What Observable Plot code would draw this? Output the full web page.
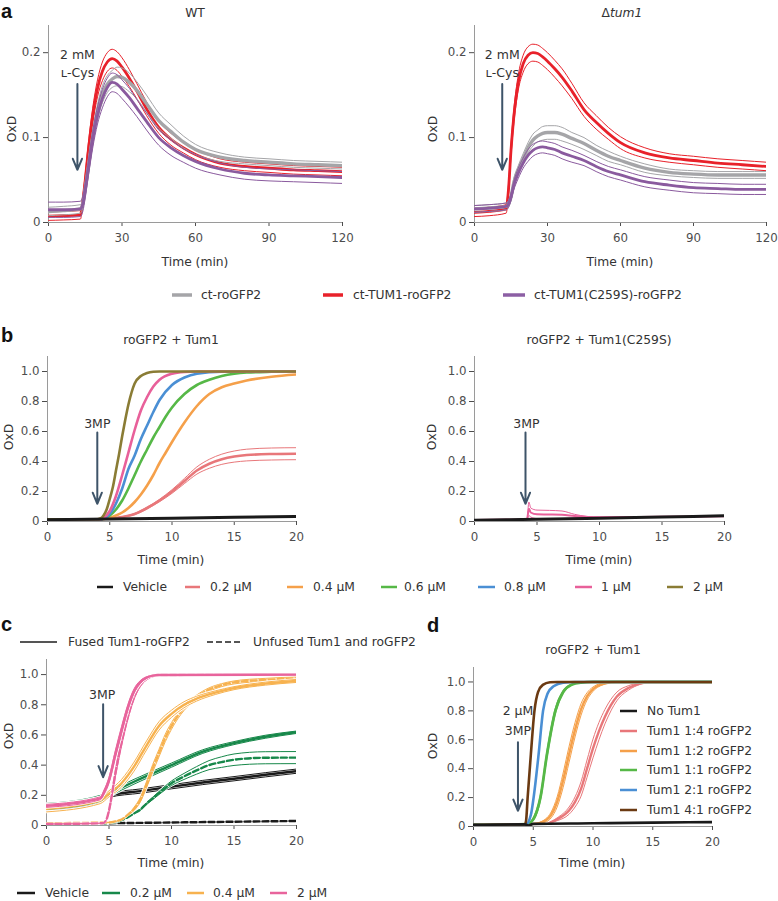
<!DOCTYPE html>
<html><head><meta charset="utf-8">
<script src="https://cdn.jsdelivr.net/npm/d3@7"></script>
<script src="https://cdn.jsdelivr.net/npm/@observablehq/plot@0.6"></script>
<style>
body{margin:0;background:#fff;}
#fig{position:relative;width:778px;height:901px;font-family:"DejaVu Sans",sans-serif;color:#333;overflow:hidden;}
.t{position:absolute;white-space:nowrap;line-height:1;font-size:12.3px;color:#333;}
.c{transform:translate(-50%,-50%);}
.r{transform:translate(-50%,-50%) rotate(-90deg);}
.l{transform:translateY(-50%);}
.letter{position:absolute;font:bold 20px "Liberation Sans",Arial,sans-serif;line-height:23px;color:#111;}
</style></head>
<body><div id="fig"></div>
<script>
// ---------------- DATA ----------------
// Panel a: [time (min), mean OxD, sd]
const aWT_ct = [[0,0.013,0.005],[6,0.014,0.005],[13,0.016,0.005],[14,0.022,0.005],[15,0.04,0.006],[16,0.06,0.007],[18,0.1,0.008],[20,0.13,0.009],[22,0.151,0.01],[24,0.163,0.01],[26,0.169,0.01],[28,0.172,0.011],[30,0.171,0.011],[33,0.165,0.011],[36,0.156,0.01],[40,0.14,0.01],[45,0.12,0.009],[50,0.107,0.008],[55,0.095,0.007],[60,0.086,0.006],[70,0.077,0.005],[80,0.073,0.004],[90,0.071,0.004],[100,0.069,0.004],[110,0.068,0.004],[120,0.067,0.004]];
const aWT_tum = [[0,0.0075,0.005],[6,0.008,0.005],[13,0.009,0.005],[14,0.025,0.006],[15,0.05,0.007],[16,0.078,0.008],[18,0.125,0.009],[20,0.158,0.01],[22,0.178,0.011],[24,0.189,0.011],[26,0.193,0.011],[28,0.19,0.011],[30,0.183,0.011],[33,0.17,0.01],[36,0.155,0.009],[40,0.134,0.008],[45,0.112,0.007],[50,0.098,0.007],[55,0.088,0.006],[60,0.08,0.006],[70,0.07,0.005],[80,0.066,0.005],[90,0.064,0.005],[100,0.062,0.005],[110,0.061,0.005],[120,0.06,0.005]];
const aWT_c259s = [[0,0.015,0.009],[6,0.015,0.009],[13,0.016,0.009],[14,0.022,0.009],[15,0.038,0.009],[16,0.058,0.009],[18,0.097,0.01],[20,0.126,0.01],[22,0.146,0.011],[24,0.159,0.011],[26,0.165,0.011],[28,0.163,0.011],[30,0.157,0.011],[33,0.147,0.011],[36,0.135,0.01],[40,0.119,0.01],[45,0.1,0.009],[50,0.088,0.009],[55,0.079,0.008],[60,0.072,0.008],[70,0.063,0.007],[80,0.058,0.007],[90,0.056,0.007],[100,0.055,0.007],[110,0.054,0.007],[120,0.053,0.007]];
const aKO_ct = [[0,0.016,0.004],[6,0.017,0.004],[13,0.019,0.004],[14,0.022,0.004],[15,0.03,0.004],[16,0.045,0.005],[18,0.062,0.005],[20,0.075,0.006],[22,0.088,0.006],[24,0.097,0.007],[26,0.102,0.007],[28,0.105,0.008],[30,0.106,0.008],[33,0.106,0.008],[36,0.104,0.008],[40,0.099,0.007],[45,0.093,0.007],[50,0.085,0.006],[55,0.078,0.006],[60,0.073,0.005],[70,0.064,0.005],[80,0.059,0.004],[90,0.057,0.004],[100,0.056,0.004],[110,0.056,0.004],[120,0.056,0.004]];
const aKO_tum = [[0,0.012,0.005],[6,0.013,0.005],[13,0.016,0.005],[14,0.04,0.006],[15,0.085,0.007],[16,0.12,0.008],[18,0.165,0.009],[20,0.187,0.01],[22,0.197,0.01],[24,0.2,0.01],[26,0.199,0.01],[28,0.195,0.01],[30,0.19,0.01],[33,0.181,0.01],[36,0.171,0.01],[40,0.155,0.009],[45,0.133,0.008],[50,0.118,0.008],[55,0.105,0.007],[60,0.094,0.007],[70,0.082,0.006],[80,0.076,0.005],[90,0.073,0.005],[100,0.07,0.005],[110,0.068,0.005],[120,0.066,0.005]];
const aKO_c259s = [[0,0.016,0.004],[6,0.017,0.004],[13,0.019,0.004],[14,0.022,0.004],[15,0.03,0.004],[16,0.042,0.005],[18,0.058,0.006],[20,0.07,0.006],[22,0.079,0.007],[24,0.085,0.007],[26,0.088,0.007],[28,0.089,0.007],[30,0.088,0.007],[33,0.086,0.007],[36,0.082,0.007],[40,0.078,0.007],[45,0.073,0.006],[50,0.066,0.006],[55,0.06,0.006],[60,0.056,0.006],[70,0.048,0.006],[80,0.044,0.006],[90,0.041,0.006],[100,0.04,0.006],[110,0.039,0.006],[120,0.039,0.006]];

// Panel b (roGFP2 + Tum1): [time, mean, sd]
const bT_vehicle = [[0,0.012],[5,0.017],[10,0.022],[15,0.028],[20,0.033]];
const bT_02 = [[0,0.015],[4,0.015],[5,0.02],[6,0.03,0.002],[7,0.05,0.004],[8,0.09,0.006],[9,0.14,0.008],[10,0.2,0.012],[11,0.27,0.017],[12,0.34,0.024],[13,0.385,0.03],[14,0.415,0.034],[15,0.433,0.037],[16,0.443,0.039],[18,0.45,0.04],[20,0.452,0.04]];
const bT_04 = [[0,0.015],[4,0.015],[5,0.025],[5.5,0.04],[6,0.06],[6.5,0.09],[7,0.13],[7.5,0.18],[8,0.24],[8.5,0.31],[9,0.39],[9.5,0.46],[10,0.53],[11,0.66],[12,0.77],[13,0.85],[14,0.895],[15,0.92],[16,0.94],[18,0.965],[20,0.98]];
const bT_06 = [[0,0.015],[4.25,0.015],[4.5,0.02],[5,0.04],[5.5,0.08],[6,0.14],[6.5,0.22],[7,0.31],[7.5,0.4],[8,0.48],[8.5,0.56],[9,0.63],[9.5,0.7],[10,0.76],[11,0.85],[12,0.91],[13,0.945],[14,0.97],[15,0.985],[16,0.993],[18,0.998],[20,1.0]];
const bT_08 = [[0,0.015],[4.25,0.015],[4.5,0.02],[5,0.05],[5.5,0.12],[6,0.22],[6.5,0.35],[7,0.44],[7.5,0.55],[8,0.64],[8.5,0.73],[9,0.81],[10,0.91],[11,0.96],[12,0.985],[14,0.998],[20,1.0]];
const bT_1 = [[0,0.015],[4.25,0.015],[4.5,0.025],[5,0.07],[5.5,0.17],[6,0.31],[6.5,0.46],[7,0.61],[7.5,0.74],[8,0.83],[8.5,0.9],[9,0.945],[10,0.985],[11,0.997],[12,1.0],[20,1.0]];
const bT_2 = [[0,0.015],[4,0.015],[4.25,0.02],[4.5,0.04],[4.75,0.08],[5,0.15],[5.25,0.23],[5.5,0.34],[5.75,0.45],[6,0.57],[6.25,0.68],[6.5,0.78],[6.75,0.86],[7,0.92],[7.5,0.97],[8,0.99],[8.5,0.998],[9,1.0],[20,1.0]];
// Panel b (roGFP2 + Tum1(C259S))
const bS_vehicle = [[0,0.008],[5,0.015],[10,0.022],[15,0.03],[20,0.038]];
const bS_1 = [[0,0.01],[4.2,0.015],[4.35,0.085,0.045],[4.5,0.06,0.03],[5,0.048,0.028],[6,0.047,0.027],[7,0.045,0.025],[8,0.036,0.012],[9,0.03,0.004],[10,0.028,0.002],[15,0.031],[20,0.035]];

// Panel c: fused (solid) and unfused (dashed)
const cF_vehicle = [[0,0.117,0.014],[4.3,0.166,0.014],[5,0.2,0.014],[7.5,0.228,0.014],[10,0.257,0.014],[12.5,0.285,0.014],[15,0.31,0.014],[17.5,0.336,0.014],[20,0.36,0.014]];
const cF_02 = [[0,0.126,0.02],[4.3,0.18,0.02],[5,0.21,0.018],[7,0.29,0.016],[10,0.4,0.014],[12.5,0.49,0.012],[15,0.546,0.01],[17.5,0.588,0.01],[20,0.618,0.008]];
const cF_04 = [[0,0.11,0.02],[4.3,0.165,0.02],[5,0.21,0.02],[6,0.28,0.025],[7,0.39,0.03],[8,0.53,0.03],[9,0.66,0.028],[10,0.74,0.024],[11,0.8,0.02],[12,0.84,0.016],[13.5,0.88,0.012],[15,0.91,0.01],[17.5,0.94,0.01],[20,0.958,0.01]];
const cF_2 = [[0,0.13,0.01],[4.3,0.18,0.01],[4.6,0.22,0.015],[5,0.3,0.02],[5.5,0.47,0.025],[6,0.63,0.025],[6.5,0.78,0.02],[7,0.89,0.015],[7.5,0.95,0.01],[8,0.98,0.005],[8.5,0.993,0.003],[9,0.997,0.002],[20,1.0,0.002]];
const cU_vehicle = [[0,0.01],[5,0.015],[10,0.02],[15,0.025],[20,0.03]];
const cU_02 = [[0,0.01],[4.5,0.015],[5,0.018],[5.5,0.022],[6,0.035],[6.5,0.055],[7,0.08],[7.5,0.105,0.004],[8,0.145,0.006],[8.5,0.18,0.008],[9,0.215,0.01],[10,0.28,0.015],[11,0.325,0.02],[12,0.365,0.025],[13,0.4,0.03],[14,0.42,0.035],[15,0.436,0.038],[17.5,0.449,0.04],[20,0.45,0.04]];
const cU_04 = [[0,0.015],[5,0.02],[5.5,0.027],[6,0.04],[6.5,0.07],[7,0.11,0.01],[7.5,0.17,0.015],[8,0.27,0.02],[8.5,0.38,0.025],[9,0.48,0.025],[9.5,0.58,0.025],[10,0.66,0.022],[11,0.78,0.018],[12,0.85,0.014],[13,0.9,0.012],[14,0.93,0.01],[15,0.948,0.01],[17.5,0.965,0.01],[20,0.975,0.01]];
const cU_2 = [[0,0.01],[4.5,0.015],[4.8,0.04],[5,0.1,0.01],[5.5,0.34,0.02],[6,0.55,0.025],[6.5,0.72,0.02],[7,0.85,0.015],[7.5,0.93,0.01],[8,0.97,0.005],[8.5,0.99,0.003],[9,0.997,0.002],[20,1.0,0.002]];

// Panel d: Tum1:roGFP2 ratios
const d_none = [[0,0.01],[4.3,0.015],[4.6,0.006],[5,0.018],[10,0.022],[15,0.027],[20,0.03]];
const d_14 = [[0,0.012],[6,0.02],[7,0.05,0.01],[8,0.11,0.025],[8.5,0.17,0.035],[9,0.26,0.05],[9.5,0.4,0.06],[10,0.54,0.065],[10.5,0.66,0.06],[11,0.76,0.05],[11.5,0.84,0.04],[12,0.9,0.03],[13,0.96,0.015],[14,0.99,0.005],[15,1.0],[20,0.995]];
const d_12 = [[0,0.012],[5,0.018],[6,0.04,0.01],[6.5,0.08,0.02],[7,0.17,0.035],[7.5,0.32,0.05],[8,0.5,0.055],[8.5,0.67,0.05],[9,0.81,0.04],[9.5,0.9,0.025],[10,0.95,0.015],[11,0.99,0.005],[12,1.0],[20,0.995]];
const d_11 = [[0,0.012],[4.5,0.017],[5,0.05,0.01],[5.6,0.2,0.02],[6.15,0.5,0.025],[6.85,0.8,0.02],[7.5,0.93,0.01],[8.2,0.98,0.004],[9,0.995],[10,1.0],[20,1.0]];
const d_21 = [[0,0.012],[4.4,0.015],[4.8,0.08],[5.03,0.2],[5.45,0.5],[5.82,0.8],[6.2,0.92],[6.7,0.97],[7.5,0.995],[8.5,1.0],[20,1.0]];
const d_41 = [[0,0.012],[4.3,0.015],[4.4,0.04],[4.53,0.2],[4.8,0.5],[5.1,0.8],[5.4,0.93],[5.8,0.98],[6.4,0.998],[7,1.0],[20,1.0]];

// Ticks
const xTicksA = [0, 30, 60, 90, 120];
const yTicksA = [0, 0.1, 0.2];
const xTicksB = [0, 5, 10, 15, 20];
const yTicksB = [0, 0.2, 0.4, 0.6, 0.8, 1.0];

// Annotations: arrows [x, yTop, yTip] and labels [x, y, text]
const annA_WT = {arrow: [[11.8, 0.163, 0.062]], text: [[11.8, 0.197, "2 mM"], [11.8, 0.176, "ʟ-Cys"]]};
const annA_KO = {arrow: [[11.4, 0.163, 0.062]], text: [[11.4, 0.197, "2 mM"], [11.4, 0.176, "ʟ-Cys"]]};
const annB_T = {arrow: [[4.0, 0.593, 0.118]], text: [[4.0, 0.65, "3MP"]]};
const annB_S = {arrow: [[4.08, 0.593, 0.118]], text: [[4.15, 0.65, "3MP"]]};
const annC = {arrow: [[4.53, 0.803, 0.32]], text: [[4.45, 0.863, "3MP"]]};
const annD = {arrow: [[3.72, 0.583, 0.109]], text: [[3.72, 0.797, "2 µM"], [3.72, 0.66, "3MP"]]};

// Legends
const legA = [["ct-roGFP2", "#a5a5a8"], ["ct-TUM1-roGFP2", "#e8212a"], ["ct-TUM1(C259S)-roGFP2", "#8c5fa4"]];
const legB = [["Vehicle", "#1a1a1a"], ["0.2 µM", "#e8777a"], ["0.4 µM", "#f5a04a"], ["0.6 µM", "#56b847"], ["0.8 µM", "#4a8fd4"], ["1 µM", "#e8609a"], ["2 µM", "#8a7c35"]];
const legC = [["Vehicle", "#1a1a1a"], ["0.2 µM", "#17884a"], ["0.4 µM", "#f7b24f"], ["2 µM", "#e8649c"]];
const legD = [["No Tum1", "#1a1a1a"], ["Tum1 1:4 roGFP2", "#e8777a"], ["Tum1 1:2 roGFP2", "#f5a04a"], ["Tum1 1:1 roGFP2", "#56b847"], ["Tum1 2:1 roGFP2", "#4a8fd4"], ["Tum1 4:1 roGFP2", "#6b3a12"]];

// ---------------- DRAWING ----------------
const fig = document.getElementById("fig");
const FONT = "DejaVu Sans, sans-serif";
const AXIS = "#9a9a9a";
const ARROW = "#3e5469";
const fmtY = d => d === 0 ? "0" : d.toFixed(1);

function series(data, color, {w = 2.8, thin = 1, dash = null, halo = false} = {}) {
  const pts = data.map(([t, m, s = 0]) => ({t, m, lo: m - s, hi: m + s}));
  const out = [];
  const base = {x: "t", curve: "monotone-x", clip: true};
  if (data.some(d => (d[2] || 0) > 0)) {
    for (const k of ["hi", "lo"]) {
      if (halo) out.push(Plot.line(pts, {...base, y: k, stroke: "#fff", strokeWidth: thin + 1.6}));
      out.push(Plot.line(pts, {...base, y: k, stroke: color, strokeWidth: thin}));
    }
  }
  out.push(Plot.line(pts, {...base, y: "m", stroke: color, strokeWidth: w, strokeDasharray: dash}));
  return out;
}
function annot(a) {
  return [
    Plot.arrow(a.arrow, {x1: d => d[0], y1: d => d[1], x2: d => d[0], y2: d => d[2], stroke: ARROW, strokeWidth: 2, headLength: 9, headAngle: 45}),
    Plot.text(a.text, {x: d => d[0], y: d => d[1], text: d => d[2], fontSize: 12.5, fill: "#333", fontFamily: FONT})
  ];
}
function panel(c) {
  const svg = Plot.plot({
    width: c.w, height: c.h,
    marginLeft: c.ml, marginRight: c.mr, marginTop: c.mt, marginBottom: c.mb,
    style: {fontFamily: FONT, fontSize: "11.8px", color: "#4d4d4d", background: "transparent", overflow: "visible"},
    x: {domain: c.x, ticks: c.xt, tickSize: 4, tickPadding: 7, label: null, tickFormat: d => String(d)},
    y: {domain: c.y, ticks: c.yt, tickSize: 5, tickPadding: 3, label: null, tickFormat: fmtY},
    marks: [Plot.ruleX([c.x[0]], {stroke: AXIS}), Plot.ruleY([0], {stroke: AXIS}), ...c.marks]
  });
  svg.style.position = "absolute";
  svg.style.left = c.left + "px";
  svg.style.top = c.top + "px";
  fig.appendChild(svg);
}
function txt(html, x, y, cls) {
  const d = document.createElement("div");
  d.className = "t " + cls;
  d.style.left = x + "px"; d.style.top = y + "px";
  d.innerHTML = html;
  fig.appendChild(d);
}
function letter(s, x, y) {
  const d = document.createElement("div");
  d.className = "letter"; d.textContent = s;
  d.style.left = x + "px"; d.style.top = y + "px";
  fig.appendChild(d);
}
// overlay svg for legend swatches
const NS = "http://www.w3.org/2000/svg";
const over = document.createElementNS(NS, "svg");
over.setAttribute("width", 778); over.setAttribute("height", 901);
over.style.cssText = "position:absolute;left:0;top:0;pointer-events:none";
fig.appendChild(over);
function swatch(x1, x2, y, color, w = 3, dash = null) {
  const l = document.createElementNS(NS, "line");
  l.setAttribute("x1", x1); l.setAttribute("x2", x2); l.setAttribute("y1", y); l.setAttribute("y2", y);
  l.setAttribute("stroke", color); l.setAttribute("stroke-width", w);
  if (dash) l.setAttribute("stroke-dasharray", dash);
  over.appendChild(l);
}

// ---- Panel a ----
const cA = ["#e8212a", "#a5a5a8", "#8a5a9e"];
panel({left: 0, top: 0, w: 390, h: 250, ml: 48, mr: 48, mt: 25, mb: 28, x: [0, 120], xt: xTicksA, y: [0, 0.232], yt: yTicksA,
  marks: [...series(aWT_tum, cA[0]), ...series(aWT_ct, cA[1], {w: 3.4}), ...series(aWT_c259s, cA[2]), ...annot(annA_WT)]});
panel({left: 390, top: 0, w: 388, h: 250, ml: 84, mr: 12, mt: 25, mb: 28, x: [0, 120], xt: xTicksA, y: [0, 0.232], yt: yTicksA,
  marks: [...series(aKO_tum, cA[0]), ...series(aKO_ct, cA[1], {w: 3.4}), ...series(aKO_c259s, cA[2]), ...annot(annA_KO)]});
letter("a", 1, 0);
txt("WT", 195, 12.5, "c");
txt("Δ<i>tum1</i>", 622, 12.5, "c");
txt("OxD", 12, 129, "r");
txt("OxD", 433, 129, "r");
txt("Time (min)", 195, 262, "c");
txt("Time (min)", 620, 262, "c");
const legAPos = [[172, 192, 201], [323, 343, 353], [503, 525, 534]];
legA.forEach(([s, col], i) => { const p = legAPos[i]; swatch(p[0], p[1], 295, col, 3.5); txt(s, p[2], 295, "l"); });

// ---- Panel b ----
const cB = Object.fromEntries(legB.map(([k, v]) => [k, v]));
panel({left: 0, top: 345, w: 390, h: 200, ml: 47, mr: 94, mt: 11, mb: 24, x: [0, 20], xt: xTicksB, y: [0, 1.1], yt: yTicksB,
  marks: [...series(bT_02, cB["0.2 µM"], {w: 2.6}), ...series(bT_04, cB["0.4 µM"], {w: 2.6}), ...series(bT_06, cB["0.6 µM"], {w: 2.6}),
    ...series(bT_08, cB["0.8 µM"], {w: 2.6}), ...series(bT_1, cB["1 µM"], {w: 2.6}), ...series(bT_2, cB["2 µM"], {w: 2.6}),
    ...series(bT_vehicle, cB["Vehicle"], {w: 3}), ...annot(annB_T)]});
panel({left: 390, top: 345, w: 388, h: 200, ml: 84, mr: 54, mt: 11, mb: 24, x: [0, 20], xt: xTicksB, y: [0, 1.1], yt: yTicksB,
  marks: [...series(bS_1, cB["1 µM"], {w: 2}), ...series(bS_vehicle, cB["Vehicle"], {w: 3}), ...annot(annB_S)]});
letter("b", 1, 323.5);
txt("roGFP2 + Tum1", 171, 340, "c");
txt("roGFP2 + Tum1(C259S)", 599, 340, "c");
txt("OxD", 9, 437, "r");
txt("OxD", 432, 437, "r");
txt("Time (min)", 171, 560, "c");
txt("Time (min)", 599, 560, "c");
const legBPos = [[97, 113, 123], [185, 200, 210], [287, 303, 313], [381, 397, 404], [478, 495, 504], [575, 592, 601], [667, 683, 693]];
legB.forEach(([s, col], i) => { const p = legBPos[i]; swatch(p[0], p[1], 587, col, 2.5); txt(s, p[2], 587, "l"); });

// ---- Panel c ----
const cC = Object.fromEntries(legC.map(([k, v]) => [k, v]));
panel({left: 0, top: 650, w: 390, h: 200, ml: 46, mr: 94, mt: 9, mb: 25, x: [0, 20], xt: xTicksB, y: [0, 1.1], yt: yTicksB,
  marks: [
    ...series(cU_vehicle, cC["Vehicle"], {w: 2.4, dash: "6,3"}),
    ...series(cF_vehicle, cC["Vehicle"], {w: 2.4, halo: true}),
    ...series(cU_02, cC["0.2 µM"], {w: 2.4, dash: "6,3", halo: true}),
    ...series(cF_02, cC["0.2 µM"], {w: 2.4, halo: true}),
    ...series(cU_04, cC["0.4 µM"], {w: 2.4, dash: "6,3", halo: true}),
    ...series(cF_04, cC["0.4 µM"], {w: 2.4, halo: true}),
    ...series(cU_2, cC["2 µM"], {w: 2.4, dash: "6,3", halo: true}),
    ...series(cF_2, cC["2 µM"], {w: 2.4, halo: true}),
    ...annot(annC)]});
letter("c", 1, 612.5);
swatch(20, 57, 642, "#555", 2);
txt("Fused Tum1-roGFP2", 68, 642, "l");
swatch(207, 240, 642, "#555", 2, "6,3");
txt("Unfused Tum1 and roGFP2", 253, 642, "l");
txt("OxD", 9, 736, "r");
txt("Time (min)", 171, 863, "c");
const legCPos = [[17, 35, 45], [102, 120, 130], [187, 204, 213], [270, 287, 297]];
legC.forEach(([s, col], i) => { const p = legCPos[i]; swatch(p[0], p[1], 893, col, 2.5); txt(s, p[2], 893, "l"); });

// ---- Panel d ----
const cD = legD.map(d => d[1]);
panel({left: 390, top: 655, w: 388, h: 195, ml: 83, mr: 66, mt: 12, mb: 24, x: [0, 20], xt: xTicksB, y: [0, 1.1], yt: yTicksB,
  marks: [...series(d_14, cD[1], {w: 2.4, halo: true}), ...series(d_12, cD[2], {w: 2.4, halo: true}), ...series(d_11, cD[3], {w: 2.8, halo: true}),
    ...series(d_21, cD[4], {w: 2.6}), ...series(d_41, cD[5], {w: 2.6}), ...series(d_none, cD[0], {w: 2.6}), ...annot(annD)]});
letter("d", 427, 613.5);
txt("roGFP2 + Tum1", 593, 650, "c");
txt("OxD", 433, 746, "r");
txt("Time (min)", 592, 863, "c");
const legDY = [711, 731, 751, 770, 790, 810];
legD.forEach(([s, col], i) => { swatch(620, 637, legDY[i], col, 2.5); txt(s, 647, legDY[i], "l"); });
</script>
</body></html>
